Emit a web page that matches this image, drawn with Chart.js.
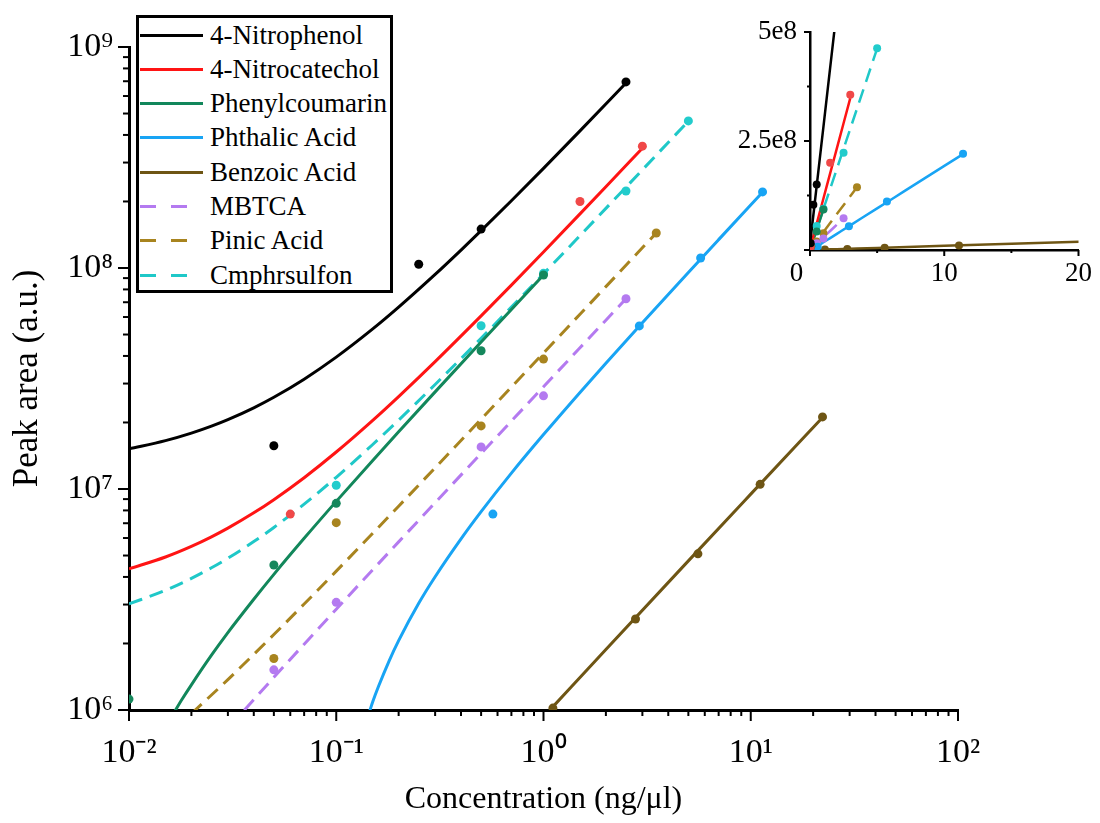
<!DOCTYPE html>
<html>
<head>
<meta charset="utf-8">
<script src="https://cdn.jsdelivr.net/npm/chart.js@4.4.1/dist/chart.umd.min.js"></script>
<style>
html,body{margin:0;padding:0;background:#fff;}
#wrap{position:relative;width:1100px;height:823px;overflow:hidden;background:#fff;}
#main{position:absolute;left:0;top:0;}
#inset{position:absolute;left:730px;top:0;}
#legend{position:absolute;left:136px;top:15px;width:251px;height:272px;border:3px solid #000;background:#fff;
  font-family:'Liberation Serif','Times New Roman',Times,serif;font-size:27px;color:#000;}
.row{position:absolute;left:0;height:32px;display:flex;align-items:center;white-space:nowrap;}
.sw{width:63px;height:3px;margin-left:1px;margin-right:7px;flex:none;}
</style>
</head>
<body>
<div id="wrap">
  <canvas id="main" width="1100" height="823"></canvas>
  <canvas id="inset" width="370" height="290"></canvas>
  <div id="legend"></div>
</div>
<script>
// ---------------- DATA ----------------
const NAMES = ['4-Nitrophenol','4-Nitrocatechol','Phenylcoumarin','Phthalic Acid','Benzoic Acid','MBTCA','Pinic Acid','Cmphrsulfon'];

// measured points (concentration ng/µl, peak area)
const NP_X = [0.05, 0.25, 0.5, 2.5];
const NP_Y = [1.57e7, 1.04e8, 1.5e8, 6.95e8];
const NC_X = [0.06, 1.5, 3.0];
const NC_Y = [7.7e6, 2.0e8, 3.56e8];
const PC_X = [0.01, 0.05, 0.1, 0.5, 1.0];
const PC_Y = [1.12e6, 4.53e6, 8.61e6, 4.22e7, 9.3e7];
const PA_X = [0.57, 2.9, 5.73, 11.4];
const PA_Y = [7.7e6, 5.47e7, 1.11e8, 2.21e8];
const BA_X = [1.11, 2.78, 5.56, 11.1, 22.2];
const BA_Y = [1.02e6, 2.58e6, 5.09e6, 1.05e7, 2.12e7];
const MB_X = [0.05, 0.1, 0.5, 1.0, 2.5];
const MB_Y = [1.52e6, 3.07e6, 1.55e7, 2.64e7, 7.26e7];
const PN_X = [0.05, 0.1, 0.5, 1.0, 3.5];
const PN_Y = [1.71e6, 7.04e6, 1.93e7, 3.87e7, 1.44e8];
const CS_X = [0.1, 0.5, 1.0, 2.5, 5.0];
const CS_Y = [1.04e7, 5.48e7, 9.46e7, 2.23e8, 4.63e8];

// fitted calibration curves
const NP_CX = [0.01,0.015,0.02,0.025,0.03,0.04,0.05,0.07,0.1,0.15,0.2,0.3,0.4,0.5,0.7,1,1.5,2.5];
const NP_CY = [1.52e7,1.655e7,1.79e7,1.925e7,2.06e7,2.33e7,2.60e7,3.14e7,3.95e7,5.30e7,6.65e7,9.35e7,1.205e8,1.475e8,2.015e8,2.825e8,4.175e8,6.875e8];
const NC_CX = [0.01,0.015,0.02,0.025,0.03,0.04,0.05,0.07,0.1,0.15,0.2,0.3,0.5,0.7,1,1.5,2,3];
const NC_CY = [4.35e6,4.925e6,5.5e6,6.075e6,6.65e6,7.8e6,8.95e6,1.125e7,1.47e7,2.045e7,2.62e7,3.77e7,6.07e7,8.37e7,1.182e8,1.757e8,2.332e8,3.482e8];
const PC_CX = [0.016,0.018,0.02,0.025,0.03,0.04,0.05,0.07,0.1,0.15,0.2,0.3,0.5,0.7,1];
const PC_CY = [9.28e5,1.115e6,1.30e6,1.77e6,2.24e6,3.17e6,4.11e6,5.98e6,8.79e6,1.347e7,1.815e7,2.751e7,4.623e7,6.495e7,9.30e7];
const PA_CX = [0.145,0.15,0.16,0.18,0.2,0.25,0.3,0.4,0.5,0.7,1,1.5,2,3,5,7,11.4];
const PA_CY = [9.9e5,1.09e6,1.28e6,1.67e6,2.06e6,3.04e6,4.01e6,5.95e6,7.90e6,1.18e7,1.763e7,2.736e7,3.709e7,5.655e7,9.55e7,1.344e8,2.20e8];
const BA_CX = [1.1, 2, 5, 10, 22.2];
const BA_CY = [1.025e6, 1.88e6, 4.73e6, 9.48e6, 2.107e7];
const MB_CX = [0.036,0.05,0.07,0.1,0.15,0.2,0.3,0.5,0.7,1,1.5,2,2.5];
const MB_CY = [9.98e5,1.405e6,1.986e6,2.858e6,4.311e6,5.764e6,8.67e6,1.448e7,2.029e7,2.901e7,4.355e7,5.807e7,7.26e7];
const PN_CX = [0.02,0.03,0.05,0.07,0.1,0.15,0.2,0.3,0.5,0.7,1,1.5,2,3.5];
const PN_CY = [9.62e5,1.373e6,2.195e6,3.017e6,4.25e6,6.305e6,8.36e6,1.247e7,2.069e7,2.891e7,4.124e7,6.179e7,8.234e7,1.44e8];
const CS_CX = [0.01,0.015,0.02,0.025,0.03,0.04,0.05,0.07,0.1,0.15,0.2,0.3,0.5,0.7,1,1.5,2,3,5];
const CS_CY = [3.02e6,3.48e6,3.94e6,4.4e6,4.86e6,5.78e6,6.7e6,8.54e6,1.13e7,1.59e7,2.05e7,2.97e7,4.81e7,6.65e7,9.41e7,1.401e8,1.861e8,2.781e8,4.621e8];

// tick labels
const X_MAJOR = [0.01, 0.1, 1, 10, 100];
const X_LABELS = ['10\u207B\u00B2','10\u207B\u00B9','10\u2070','10\u00B9','10\u00B2'];
const Y_MAJOR = [1e6, 1e7, 1e8, 1e9];
const Y_LABELS = ['10\u2076','10\u2077','10\u2078','10\u2079'];
const INSET_X_TICKS = [0, 5, 10, 15, 20];
const INSET_X_LABELS = ['0\u2002\u2002', '', '10', '', '20'];
const INSET_Y_TICKS = [0, 1.25e8, 2.5e8, 3.75e8, 5e8];
const INSET_Y_LABELS = ['', '', '2.5e8', '', '5e8'];

// ---------------- STYLES ----------------
const FONT = "'Liberation Serif','Times New Roman',Times,serif";
const LINE_COLORS  = ['#000000','#ff1414','#12875b','#18a4f4','#6e5514','#b47af0','#a8841f','#1fc8c8'];
const POINT_COLORS = ['#000000','#f04848','#15875c','#18a4f4','#6e5514','#b47af0','#a8841f','#22cccc'];
const DASHED = [false,false,false,false,false,true,true,true];

const PTS_X = [NP_X, NC_X, PC_X, PA_X, BA_X, MB_X, PN_X, CS_X];
const PTS_Y = [NP_Y, NC_Y, PC_Y, PA_Y, BA_Y, MB_Y, PN_Y, CS_Y];
const CUR_X = [NP_CX, NC_CX, PC_CX, PA_CX, BA_CX, MB_CX, PN_CX, CS_CX];
const CUR_Y = [NP_CY, NC_CY, PC_CY, PA_CY, BA_CY, MB_CY, PN_CY, CS_CY];

const pairs = (xs, ys) => xs.map((x, i) => ({x: x, y: ys[i]}));

function buildDatasets(lineW, ptR, dash) {
  const ds = [];
  NAMES.forEach((n, i) => {
    ds.push({label: n, data: pairs(PTS_X[i], PTS_Y[i]), backgroundColor: POINT_COLORS[i],
      borderWidth: 0, pointRadius: ptR, pointHoverRadius: ptR, showLine: false, order: 0});
  });
  NAMES.forEach((n, i) => {
    ds.push({label: n + ' fit', data: pairs(CUR_X[i], CUR_Y[i]), borderColor: LINE_COLORS[i],
      backgroundColor: LINE_COLORS[i], borderWidth: lineW, borderDash: DASHED[i] ? dash : [],
      pointRadius: 0, showLine: true, fill: false, cubicInterpolationMode: 'monotone', order: 1});
  });
  return ds;
}

function logTicks(majors) {
  const t = [];
  for (let k = 0; k < majors.length; k++) {
    t.push({value: majors[k], major: true});
    if (k < majors.length - 1) for (let m = 2; m <= 9; m++) t.push({value: majors[k] * m, major: false});
  }
  return t;
}
function labelFrom(values, labels, v) {
  for (let i = 0; i < values.length; i++) if (Math.abs(values[i] - v) <= Math.abs(v) * 1e-9 + 1e-12) return labels[i];
  return '';
}

const tickMarks = {
  id: 'tickMarks',
  afterDraw(chart, args, opts) {
    const ctx = chart.ctx;
    ctx.save();
    ctx.strokeStyle = '#000';
    ctx.lineWidth = opts.width;
    ['x', 'y'].forEach(id => {
      const sc = chart.scales[id];
      sc.ticks.forEach(t => {
        const len = t.major ? opts.major : opts.minor;
        const p = sc.getPixelForValue(t.value);
        ctx.beginPath();
        if (id === 'x') { ctx.moveTo(p, sc.top); ctx.lineTo(p, sc.top + len); }
        else { ctx.moveTo(sc.right, p); ctx.lineTo(sc.right - len, p); }
        ctx.stroke();
      });
    });
    ctx.restore();
  }
};

// ---------------- MAIN CHART ----------------
new Chart(document.getElementById('main'), {
  type: 'scatter',
  data: {datasets: buildDatasets(3, 4.5, [14, 8])},
  plugins: [tickMarks],
  options: {
    responsive: false, animation: false, devicePixelRatio: 1,
    layout: {padding: {left: 0, top: 47, right: 142, bottom: 0}},
    plugins: {legend: {display: false}, tooltip: {enabled: false},
      tickMarks: {major: 11, minor: 6, width: 2}},
    scales: {
      x: {type: 'logarithmic', position: 'bottom', min: 0.01, max: 100,
        afterFit(s) { s.height = 113; },
        afterBuildTicks(s) { s.ticks = logTicks(X_MAJOR); },
        grid: {display: false, drawTicks: false},
        border: {display: true, color: '#000', width: 3},
        ticks: {autoSkip: false, maxRotation: 0, padding: 23, color: '#000',
          font: {family: FONT, size: 34},
          callback: v => labelFrom(X_MAJOR, X_LABELS, v)},
        title: {display: true, text: 'Concentration (ng/\u03BCl)', color: '#000',
          font: {family: FONT, size: 32}, padding: {top: 0, bottom: 4}}
      },
      y: {type: 'logarithmic', position: 'left', min: 1e6, max: 1e9,
        afterFit(s) { s.width = 129; },
        afterBuildTicks(s) { s.ticks = logTicks(Y_MAJOR); },
        grid: {display: false, drawTicks: false},
        border: {display: true, color: '#000', width: 3},
        ticks: {autoSkip: false, padding: 16, color: '#000',
          font: {family: FONT, size: 34},
          callback: v => labelFrom(Y_MAJOR, Y_LABELS, v)},
        title: {display: true, text: 'Peak area (a.u.)', color: '#000',
          font: {family: FONT, size: 35}, padding: {top: 7, bottom: 0}}
      }
    }
  }
});

// ---------------- INSET ----------------
new Chart(document.getElementById('inset'), {
  type: 'scatter',
  data: {datasets: buildDatasets(2.5, 4, [14, 8])},
  plugins: [tickMarks],
  options: {
    responsive: false, animation: false, devicePixelRatio: 1,
    layout: {padding: {left: 0, top: 32, right: 18, bottom: 0}},
    plugins: {legend: {display: false}, tooltip: {enabled: false},
      tickMarks: {major: 6, minor: 3, width: 2}},
    scales: {
      x: {type: 'linear', position: 'bottom', min: 0, max: 20,
        afterFit(s) { s.height = 40; },
        afterBuildTicks(s) { s.ticks = INSET_X_TICKS.map((v, i) => ({value: v, major: INSET_X_LABELS[i] !== ''})); },
        grid: {display: false, drawTicks: false},
        border: {display: true, color: '#000', width: 2.5},
        ticks: {autoSkip: false, maxRotation: 0, padding: 8, color: '#000',
          font: {family: FONT, size: 27},
          callback: v => labelFrom(INSET_X_TICKS, INSET_X_LABELS, v)}
      },
      y: {type: 'linear', position: 'left', min: 0, max: 5e8,
        afterFit(s) { s.width = 80; },
        afterBuildTicks(s) { s.ticks = INSET_Y_TICKS.map((v, i) => ({value: v, major: i % 2 === 0})); },
        grid: {display: false, drawTicks: false},
        border: {display: true, color: '#000', width: 2.5},
        ticks: {autoSkip: false, padding: 13, color: '#000',
          font: {family: FONT, size: 27},
          callback: v => labelFrom(INSET_Y_TICKS, INSET_Y_LABELS, v)}
      }
    }
  }
});

// ---------------- LEGEND ----------------
const lg = document.getElementById('legend');
NAMES.forEach((n, i) => {
  const row = document.createElement('div');
  row.className = 'row';
  row.style.top = (1 + i * 34.3) + 'px';
  const sw = document.createElement('div');
  sw.className = 'sw';
  if (DASHED[i]) {
    sw.style.background = 'repeating-linear-gradient(90deg,' + LINE_COLORS[i] + ' 0 16px, transparent 16px 31px)';
    sw.style.width = '47px';
    sw.style.marginRight = '23px';
  } else {
    sw.style.background = LINE_COLORS[i];
  }
  const tx = document.createElement('span');
  tx.textContent = n;
  row.appendChild(sw);
  row.appendChild(tx);
  lg.appendChild(row);
});
</script>
</body>
</html>
